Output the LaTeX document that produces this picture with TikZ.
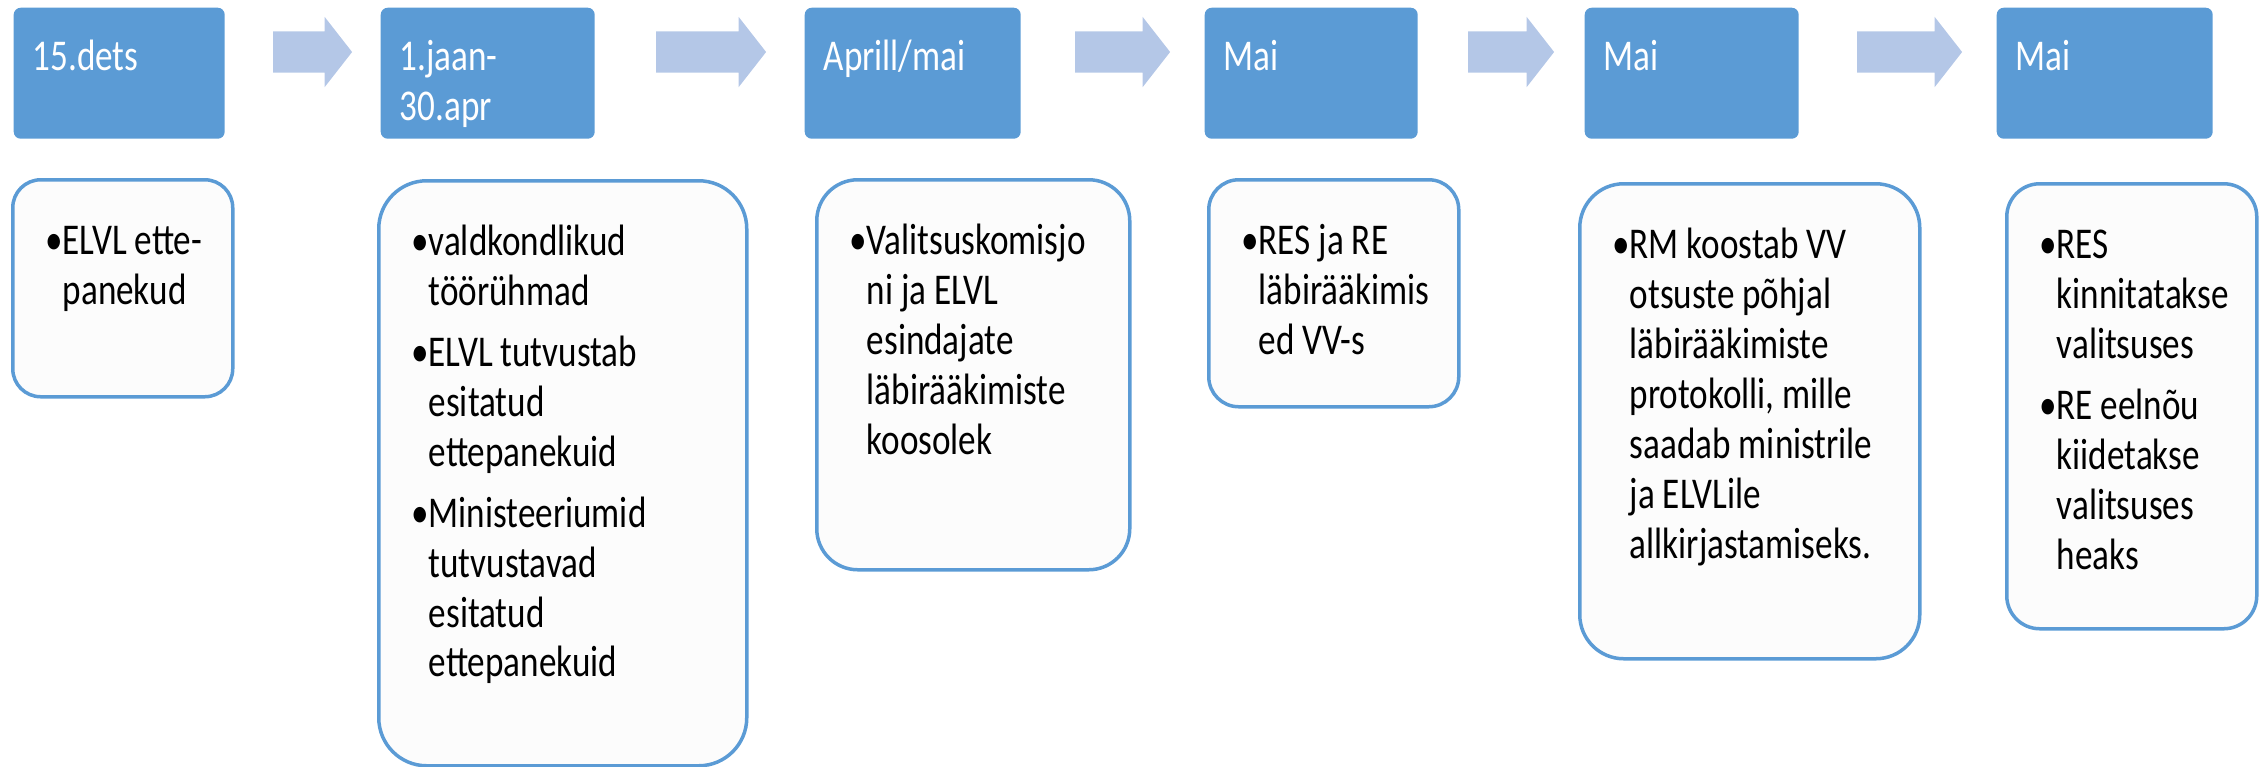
\documentclass[tikz,border=0pt]{standalone}
\usepackage{fontspec}
\setmainfont{Carlito}[FakeStretch=0.8]
\usetikzlibrary{shapes.arrows}

\definecolor{dateblue}{HTML}{5B9BD5}
\definecolor{noteline}{HTML}{5B9BD5}
\definecolor{notefill}{HTML}{FCFCFC}
\definecolor{arrowblue}{HTML}{B4C7E7}

% box contents: width, height, text
\newcommand{\datetext}[3]{\parbox[t][#2][t]{#1}{\leftskip=1.9mm\rightskip=0pt plus 1fil\vspace*{2.8mm}\strut #3}}
\newcommand{\notetext}[3]{\parbox[t][#2][t]{#1}{\leftskip=3.3mm\rightskip=0pt plus 1fil\vspace*{2.9mm}#3}}
\newcommand{\bul}{\par\vspace{1.1mm}\noindent\hangindent=1.7mm\hangafter=1\strut\makebox[1.7mm][l]{\textbullet}}

\begin{document}
\begin{tikzpicture}[x=0.1mm,y=-0.1mm,
    font=\fontsize{12.5}{14.2}\selectfont]
  \tikzstyle{datebox}=[fill=dateblue,draw=none,text=white,anchor=north west,
    inner sep=0pt,rounded corners=0.7mm]
  \tikzstyle{notebox}=[fill=notefill,draw=noteline,line width=0.35mm,
    anchor=north west,inner sep=0pt]
  \tikzstyle{flowarrow}=[single arrow,fill=arrowblue,draw=none,inner xsep=0pt,
    inner ysep=2mm,single arrow head extend=1.45mm,single arrow tip angle=104,
    single arrow head indent=0pt]

  \useasboundingbox (0,0) rectangle (2265,766);

  % dates
  \node[datebox] (d1) at (13,7)   {\datetext{21.1mm}{13.1mm}{15.dets}};
  \node[datebox] (d2) at (380,7)  {\datetext{21.4mm}{13.1mm}{1.jaan-\\30.apr}};
  \node[datebox] (d3) at (804,7)  {\datetext{21.6mm}{13.1mm}{Aprill/mai}};
  \node[datebox] (d4) at (1204,7) {\datetext{21.3mm}{13.1mm}{Mai}};
  \node[datebox] (d5) at (1584,7) {\datetext{21.4mm}{13.1mm}{Mai}};
  \node[datebox] (d6) at (1996,7) {\datetext{21.6mm}{13.1mm}{Mai}};

  % arrows between the dates
  \node[flowarrow,minimum height=7.9mm]  (a1) at (304.5,52)  {};
  \node[flowarrow,minimum height=11mm]   (a2) at (703,52)    {};
  \node[flowarrow,minimum height=9.5mm]  (a3) at (1114.5,52) {};
  \node[flowarrow,minimum height=8.6mm]  (a4) at (1503,52)   {};
  \node[flowarrow,minimum height=10.5mm] (a5) at (1901.5,52) {};

  % steps
  \node[notebox,rounded corners=2.8mm] (n1) at (11,178)
    {\notetext{22mm}{21.7mm}{\bul ELVL ette-\\panekud}};
  \node[notebox,rounded corners=4.8mm] (n2) at (377,179)
    {\notetext{36.8mm}{58.5mm}{\bul valdkondlikud\\töörühmad
      \bul ELVL tutvustab\\esitatud\\ettepanekuid
      \bul Ministeeriumid\\tutvustavad\\esitatud\\ettepanekuid}};
  \node[notebox,rounded corners=4.1mm] (n3) at (815,178)
    {\notetext{31.3mm}{39mm}{\bul Valitsuskomisjo\\ni ja ELVL\\esindajate\\läbirääkimiste\\koosolek}};
  \node[notebox,rounded corners=3mm] (n4) at (1207,178)
    {\notetext{25mm}{22.7mm}{\bul RES ja RE\\läbirääkimis\\ed VV-s}};
  \node[notebox,rounded corners=4.4mm] (n5) at (1578,182)
    {\notetext{34mm}{47.5mm}{\bul RM koostab VV\\otsuste põhjal\\läbirääkimiste\\protokolli, mille\\saadab ministrile\\ja ELVLile\\allkirjastamiseks.}};
  \node[notebox,rounded corners=3.3mm] (n6) at (2005,182)
    {\notetext{25mm}{44.5mm}{\bul RES\\kinnitatakse\\valitsuses
      \bul RE eelnõu\\kiidetakse\\valitsuses\\heaks}};
\end{tikzpicture}
\end{document}
